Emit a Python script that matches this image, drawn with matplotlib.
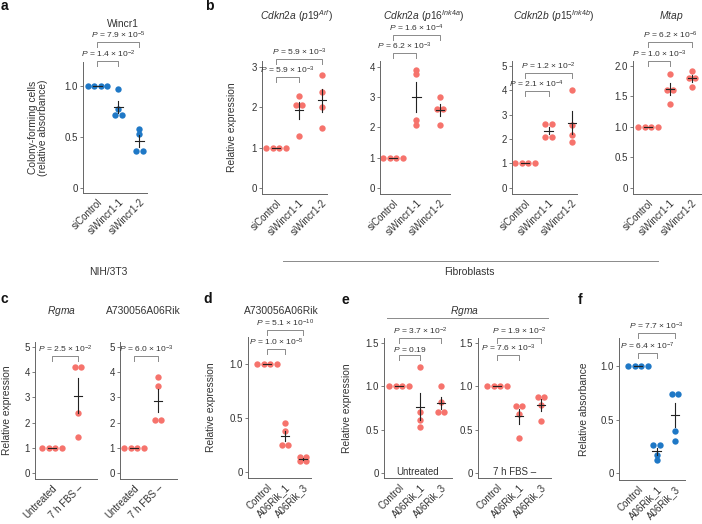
import numpy as np
import matplotlib
matplotlib.use("Agg")
import matplotlib.pyplot as plt
from matplotlib.lines import Line2D
from matplotlib.transforms import offset_copy

plt.rcParams['font.family'] = ['Liberation Sans', 'DejaVu Sans']
plt.rcParams['mathtext.fontset'] = 'custom'
plt.rcParams['mathtext.rm'] = 'Liberation Sans'
plt.rcParams['mathtext.it'] = 'Liberation Sans:italic'
plt.rcParams['mathtext.bf'] = 'Liberation Sans:bold'

W, H = 702, 524
RED = '#F6736C'
BLUE = '#1F78C6'
TXT = '#333333'
GREY = '#8a8a8a'

# ---- data ----
si_groups = ['siControl', 'siWincr1-1', 'siWincr1-2']
a_wincr1 = [[1.0, 1.0, 1.0, 1.0], [0.97, 0.77, 0.72, 0.72], [0.58, 0.53, 0.36, 0.36]]
a_pvals = ['1.4 × 10$^{-2}$', '7.9 × 10$^{-5}$']

b_p19 = [[1.0, 1.0, 1.0, 1.0], [2.28, 2.06, 2.06, 1.29], [2.81, 2.38, 2.01, 1.49]]
b_p16 = [[1.0, 1.0, 1.0, 1.0], [3.91, 3.78, 2.25, 2.08], [3.02, 2.62, 2.62, 2.08]]
b_p15 = [[1.0, 1.0, 1.0, 1.0], [2.63, 2.63, 2.07, 2.07], [4.02, 2.57, 2.18, 1.88]]
b_mtap = [[1.0, 1.0, 1.0, 1.0], [1.87, 1.61, 1.61, 1.38], [1.92, 1.80, 1.80, 1.66]]
b_p19_p = ['5.9 × 10$^{-3}$', '5.9 × 10$^{-3}$']
b_p16_p = ['6.2 × 10$^{-3}$', '1.6 × 10$^{-4}$']
b_p15_p = ['2.1 × 10$^{-4}$', '1.2 × 10$^{-2}$']
b_mtap_p = ['1.0 × 10$^{-3}$', '6.2 × 10$^{-6}$']

fbs_groups = ['Untreated', '7 h FBS –']
c_rgma = [[1.0, 1.0, 1.0, 1.0], [4.21, 4.21, 2.39, 1.42]]
c_rik = [[1.0, 1.0, 1.0, 1.0], [3.82, 3.45, 2.10, 2.10]]
c_rgma_p = ['2.5 × 10$^{-2}$']
c_rik_p = ['6.0 × 10$^{-3}$']

kd_groups = ['Control', 'A06Rik_1', 'A06Rik_3']
d_rik = [[1.0, 1.0, 1.0, 1.0], [0.45, 0.38, 0.25, 0.25], [0.14, 0.14, 0.10, 0.10]]
d_pvals = ['1.0 × 10$^{-5}$', '5.1 × 10$^{-10}$']
e_untreated = [[1.0, 1.0, 1.0, 1.0], [1.22, 0.70, 0.61, 0.53], [1.00, 0.82, 0.70, 0.70]]
e_fbs = [[1.0, 1.0, 1.0, 1.0], [0.77, 0.77, 0.68, 0.40], [0.88, 0.88, 0.78, 0.60]]
e_untreated_p = ['0.19', '3.7 × 10$^{-2}$']
e_fbs_p = ['7.6 × 10$^{-3}$', '1.9 × 10$^{-2}$']
f_abs = [[1.0, 1.0, 1.0, 1.0], [0.26, 0.26, 0.17, 0.12], [0.74, 0.74, 0.39, 0.30]]
f_pvals = ['6.4 × 10$^{-7}$', '7.7 × 10$^{-3}$']

fig = plt.figure(figsize=(W / 100, H / 100), dpi=100)

TICK_FS = 7.0
LAB_FS = 7.4
P_FS = 6.1


def fx(x):
    return x / W


def fy(y):
    return 1 - y / H


def swarm(vals, ppx, ppy, step=6.6, tol=3.5):
    # spread points that sit on (almost) the same height side by side
    vals = np.asarray(vals, float)
    order = np.argsort(-vals, kind='stable')
    clusters = []
    for i in order:
        if clusters and abs(vals[clusters[-1][-1]] - vals[i]) * ppy < tol:
            clusters[-1].append(i)
        else:
            clusters.append([i])
    offs = np.zeros(len(vals))
    for c in clusters:
        n = len(c)
        for k, i in enumerate(c):
            offs[i] = (k - (n - 1) / 2) * step / ppx
    return offs


def panel(box, xlim, ylim, yticks, groups, vals, color, pvals, blevels,
          title=None, tpos=None, ylabel=None, ylx=None, inner=None):
    x0, x1, yt, yb = box
    ax = fig.add_axes([fx(x0), fy(yb), (x1 - x0) / W, (yb - yt) / H])
    ax.set_xlim(xlim)
    ax.set_ylim(ylim)
    ppx = (x1 - x0) / (xlim[1] - xlim[0])
    ppy = (yb - yt) / (ylim[1] - ylim[0])
    for i, v in enumerate(vals):
        off = swarm(v, ppx, ppy)
        ax.scatter(i + off, v, s=21, color=color, lw=0, zorder=2, clip_on=False)
        m = np.mean(v)
        se = np.std(v, ddof=1) / np.sqrt(len(v))
        hw = 4.2 / ppx
        ax.plot([i - hw, i + hw], [m, m], color='#222222', lw=0.8, zorder=3)
        ax.plot([i, i], [m - se, m + se], color='#222222', lw=0.8, zorder=3)
    ax.set_xticks(range(len(groups)))
    ax.set_xticklabels(groups, rotation=45, ha='right', rotation_mode='anchor')
    ax.set_yticks(yticks)
    ax.set_yticklabels(['0' if t == 0 else (f'{t:.1f}' if any(tt % 1 for tt in yticks) else f'{t:g}')
                        for t in yticks])
    for s in ['top', 'right']:
        ax.spines[s].set_visible(False)
    for s in ['left', 'bottom']:
        ax.spines[s].set_color('#666666')
        ax.spines[s].set_linewidth(0.7)
    ax.tick_params(axis='both', labelsize=TICK_FS, colors='#666666', labelcolor=TXT,
                   width=0.6, length=2, pad=1.5)
    ax.tick_params(axis='x', length=0, pad=3)
    ax.patch.set_alpha(0)

    # significance brackets
    tr = ax.get_xaxis_transform()
    d = 5 / (yb - yt)
    pairs = [(0, 1), (0, 2)] if len(pvals) == 2 else [(0, 1)]
    for (i, j), p, lev in zip(pairs, pvals, blevels):
        ax.plot([i, i, j, j], [lev - d, lev, lev, lev - d], transform=tr,
                color=GREY, lw=0.7, clip_on=False)
        ax.text((i + j) / 2, lev, r'$\mathit{P}$ = ' + p,
                transform=offset_copy(tr, fig=fig, y=0.6, units='points'),
                ha='center', va='bottom', fontsize=P_FS, color=TXT)

    if title:
        fig.text(fx(tpos[0]), fy(tpos[1]), title, ha='center', va='center',
                 fontsize=LAB_FS, color=TXT)
    if ylabel:
        fig.text(fx(ylx), fy((yt + yb) / 2), ylabel, rotation=90, ha='center',
                 va='center', fontsize=LAB_FS, color=TXT, linespacing=1.05)
    if inner:
        ax.text(0.5, 0.008, inner, transform=ax.transAxes, ha='center',
                va='bottom', fontsize=TICK_FS, color=TXT)
    return ax


# ---- a ----
panel((83, 147, 62, 193), (-0.69, 2.36), (-0.049, 1.235), [0, 0.5, 1.0],
      si_groups, a_wincr1, BLUE, a_pvals, [1.008, 1.153],
      title='Wincr1', tpos=(123, 24),
      ylabel='Colony-forming cells\n(relative absorbance)', ylx=38)

# ---- b ----
panel((262, 327, 61, 194), (-0.61, 2.22), (-0.15, 3.15), [0, 1, 2, 3],
      si_groups, b_p19, RED, b_p19_p, [0.88, 1.015],
      title=r'$\mathit{Cdkn2a\ (p19}^{\mathit{Arf}}\mathit{)}$', tpos=(297, 16),
      ylabel='Relative expression', ylx=232)
panel((380, 450, 61, 194), (-0.55, 2.43), (-0.2, 4.2), [0, 1, 2, 3, 4],
      si_groups, b_p16, RED, b_p16_p, [1.06, 1.195],
      title=r'$\mathit{Cdkn2a\ (p16}^{\mathit{Ink4a}}\mathit{)}$', tpos=(424, 16))
panel((512, 577, 61, 194), (-0.55, 2.21), (-0.25, 5.2), [0, 1, 2, 3, 4, 5],
      si_groups, b_p15, RED, b_p15_p, [0.777, 0.91],
      title=r'$\mathit{Cdkn2b\ (p15}^{\mathit{Ink4b}}\mathit{)}$', tpos=(554, 16))
panel((633, 701, 61, 194), (-0.68, 2.41), (-0.1, 2.08), [0, 0.5, 1.0, 1.5, 2.0],
      si_groups, b_mtap, RED, b_mtap_p, [1.0, 1.143],
      title=r'$\mathit{Mtap}$', tpos=(671, 16))

# ---- c ----
panel((35, 97, 342, 479), (-0.65, 1.73), (-0.24, 5.2), [0, 1, 2, 3, 4, 5],
      fbs_groups, c_rgma, RED, c_rgma_p, [0.898],
      title=r'$\mathit{Rgma}$', tpos=(61, 311),
      ylabel='Relative expression', ylx=7)
panel((120, 177, 342, 479), (-0.58, 1.79), (-0.24, 5.2), [0, 1, 2, 3, 4, 5],
      fbs_groups, c_rik, RED, c_rik_p, [0.898],
      title='A730056A06Rik', tpos=(143, 311))

# ---- d ----
panel((248, 311, 337, 478), (-1.06, 2.44), (-0.056, 1.25), [0, 0.5, 1.0],
      kd_groups, d_rik, RED, d_pvals, [0.915, 1.05],
      title='A730056A06Rik', tpos=(281, 311),
      ylabel='Relative expression', ylx=211)

# ---- e ----
panel((384, 452, 338, 478), (-0.71, 2.52), (-0.058, 1.56), [0, 0.5, 1.0, 1.5],
      kd_groups, e_untreated, RED, e_untreated_p, [0.878, 1.0],
      ylabel='Relative expression', ylx=347, inner='Untreated')
panel((478, 551, 338, 478), (-0.86, 2.45), (-0.058, 1.56), [0, 0.5, 1.0, 1.5],
      kd_groups, e_fbs, RED, e_fbs_p, [0.879, 1.0], inner='7 h FBS –')
fig.text(fx(464), fy(311), r'$\mathit{Rgma}$', ha='center', va='center',
         fontsize=LAB_FS, color=TXT)
fig.add_artist(Line2D([fx(387), fx(548)], [fy(318), fy(318)], color=GREY, lw=0.7))

# ---- f ----
panel((619, 685, 338, 480), (-1.03, 2.54), (-0.066, 1.265), [0, 0.5, 1.0],
      kd_groups, f_abs, BLUE, f_pvals, [0.894, 1.035],
      ylabel='Relative absorbance', ylx=584)

# ---- group labels and panel letters ----
fig.text(fx(108), fy(272), 'NIH/3T3', ha='center', va='center', fontsize=LAB_FS, color=TXT)
fig.text(fx(469), fy(272), 'Fibroblasts', ha='center', va='center', fontsize=LAB_FS, color=TXT)
fig.add_artist(Line2D([fx(283), fx(658)], [fy(261), fy(261)], color=GREY, lw=0.7))

for letter, (x, y) in zip('abcdef', [(4, 6), (209, 6), (4, 299), (208, 299), (345, 300), (580, 300)]):
    fig.text(fx(x), fy(y), letter, ha='center', va='center', fontsize=10,
             fontweight='bold', color='#111111')

fig.savefig('out.png', dpi=100)
